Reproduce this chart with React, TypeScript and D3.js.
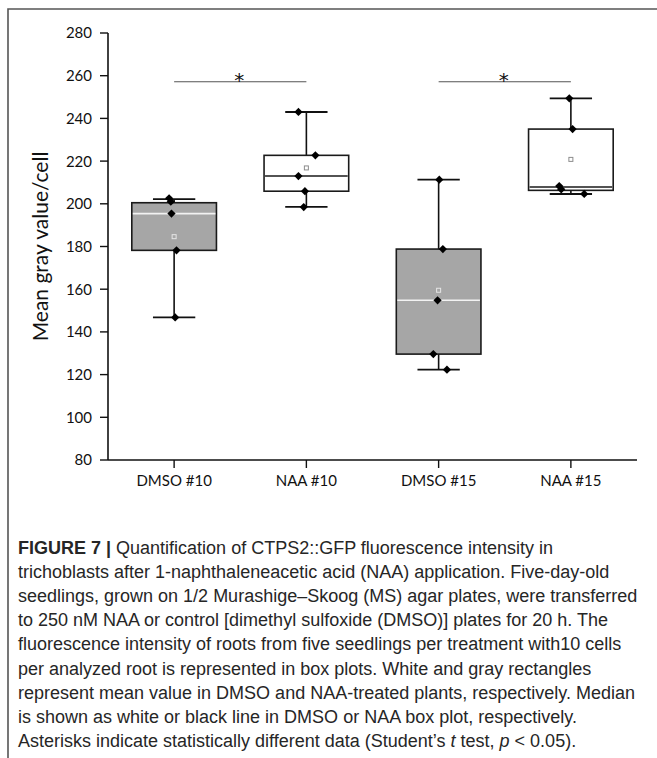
import React from "react";
import * as d3 from "d3";

const categories = ["DMSO #10", "NAA #10", "DMSO #15", "NAA #15"];
const treatment = ["DMSO", "NAA", "DMSO", "NAA"];
const q1 = [178.2, 205.9, 129.6, 206.3];
const median = [195.4, 213.0, 154.8, 207.9];
const q3 = [200.5, 222.7, 178.8, 235.0];
const mean = [184.6, 216.8, 159.5, 220.8];
const whiskerLow = [146.8, 198.6, 122.3, 204.6];
const whiskerHigh = [202.2, 243.0, 211.3, 249.4];
const points = [
  [202.6, 201.0, 195.4, 178.2, 146.8],
  [243.0, 222.7, 213.0, 205.9, 198.5],
  [211.3, 178.8, 154.8, 129.6, 122.3],
  [249.4, 235.0, 208.3, 206.8, 204.6],
];
// horizontal jitter of points, as a fraction of the band width
const jitter = [
  [-0.038, -0.025, -0.02, 0.018, 0.008],
  [-0.06, 0.068, -0.06, -0.011, -0.02],
  [0.005, 0.032, -0.008, -0.04, 0.063],
  [-0.012, 0.013, -0.088, -0.073, 0.101],
];
const yTicks = [80, 100, 120, 140, 160, 180, 200, 220, 240, 260, 280];
const significance = [
  { from: 0, to: 1, value: 257.2, label: "*" },
  { from: 2, to: 3, value: 257.2, label: "*" },
];
const captionLines = [
  "Quantification of CTPS2::GFP fluorescence intensity in",
  "trichoblasts after 1-naphthaleneacetic acid (NAA) application. Five-day-old",
  "seedlings, grown on 1/2 Murashige\u2013Skoog (MS) agar plates, were transferred",
  "to 250 nM NAA or control [dimethyl sulfoxide (DMSO)] plates for 20 h. The",
  "fluorescence intensity of roots from five seedlings per treatment with10 cells",
  "per analyzed root is represented in box plots. White and gray rectangles",
  "represent mean value in DMSO and NAA-treated plants, respectively. Median",
  "is shown as white or black line in DMSO or NAA box plot, respectively.",
  "Asterisks indicate statistically different data (Student\u2019s t test, p < 0.05).",
];

const W = 657;
const H = 758;
const font = "Lato, 'Open Sans', sans-serif";
const capFont = "'Liberation Sans', Arial, sans-serif";
const capSize = 18;

export default function App() {
  const x = d3.scaleBand<string>().domain(categories).range([108, 637]).padding(0);
  const y = d3.scaleLinear().domain([80, 280]).range([460, 33]);
  const bw = x.bandwidth();
  const boxW = bw * 0.64;
  const capW = bw * 0.32;
  const cx = (i: number) => (x(categories[i]) as number) + bw / 2;
  const diamond = d3.symbol().type(d3.symbolSquare).size(34)() as string;

  const renderCaptionLine = (line: string, i: number) => {
    const yy = 554 + i * 24.1;
    const common = { x: 18, y: yy, fontFamily: capFont, fontSize: capSize, fill: "#262626" };
    if (i === 0) {
      return (
        <text key={i} {...common}>
          <tspan fontWeight="bold">FIGURE 7 | </tspan>
          {line}
        </text>
      );
    }
    if (i === 8) {
      return (
        <text key={i} {...common}>
          {"Asterisks indicate statistically different data (Student\u2019s "}
          <tspan fontStyle="italic">t</tspan>
          {" test, "}
          <tspan fontStyle="italic">p</tspan>
          {" < 0.05)."}
        </text>
      );
    }
    return (
      <text key={i} {...common}>
        {line}
      </text>
    );
  };

  return (
    <div style={{ position: "absolute", left: 0, top: 0 }}>
      <svg width={W} height={H} style={{ display: "block", background: "#fff" }}>
        <path d={`M8,${H} V9 H${W}`} fill="none" stroke="#555" strokeWidth={1.6} />

        {/* y axis */}
        <line x1={108} x2={108} y1={y(280)} y2={y(80)} stroke="#111" strokeWidth={1.6} />
        {yTicks.map((t) => (
          <g key={t}>
            <line x1={100} x2={108} y1={y(t)} y2={y(t)} stroke="#111" strokeWidth={1.4} />
            <text x={92} y={y(t)} dy="0.36em" textAnchor="end" fontFamily={font} fontSize={15} fill="#111">
              {t}
            </text>
          </g>
        ))}
        <text
          transform={`translate(48,${(y(80) + y(280)) / 2}) rotate(-90)`}
          textAnchor="middle"
          fontFamily={font}
          fontSize={21}
          fill="#111"
        >
          Mean gray value/cell
        </text>

        {/* x axis */}
        <line x1={108} x2={637} y1={y(80)} y2={y(80)} stroke="#111" strokeWidth={1.6} />
        {categories.map((c, i) => (
          <g key={c}>
            <line x1={cx(i)} x2={cx(i)} y1={y(80)} y2={y(80) + 8} stroke="#111" strokeWidth={1.4} />
            <text x={cx(i)} y={486} textAnchor="middle" fontFamily={font} fontSize={15} fill="#111">
              {c}
            </text>
          </g>
        ))}

        {/* significance */}
        {significance.map((s, i) => (
          <g key={i}>
            <line x1={cx(s.from)} x2={cx(s.to)} y1={y(s.value)} y2={y(s.value)} stroke="#555" strokeWidth={1.1} />
            <text
              x={(cx(s.from) + cx(s.to)) / 2 - 1}
              y={y(s.value) + 5.5}
              textAnchor="middle"
              fontFamily="'DejaVu Sans', sans-serif"
              fontSize={20}
              fill="#111"
            >
              {s.label}
            </text>
          </g>
        ))}

        {/* boxes */}
        {categories.map((c, i) => {
          const isDMSO = treatment[i] === "DMSO";
          const xc = cx(i);
          return (
            <g key={c}>
              <line x1={xc} x2={xc} y1={y(whiskerHigh[i])} y2={y(whiskerLow[i])} stroke="#111" strokeWidth={1.6} />
              <line x1={xc - capW / 2} x2={xc + capW / 2} y1={y(whiskerHigh[i])} y2={y(whiskerHigh[i])} stroke="#111" strokeWidth={1.8} />
              <line x1={xc - capW / 2} x2={xc + capW / 2} y1={y(whiskerLow[i])} y2={y(whiskerLow[i])} stroke="#111" strokeWidth={1.8} />
              <rect
                x={xc - boxW / 2}
                y={y(q3[i])}
                width={boxW}
                height={y(q1[i]) - y(q3[i])}
                fill={isDMSO ? "#a6a6a6" : "#fff"}
                stroke="#1a1a1a"
                strokeWidth={1.6}
              />
              <line
                x1={xc - boxW / 2 + 1}
                x2={xc + boxW / 2 - 1}
                y1={y(median[i])}
                y2={y(median[i])}
                stroke={isDMSO ? "#f2f2f2" : "#1a1a1a"}
                strokeWidth={1.6}
              />
              <rect
                x={xc - 2}
                y={y(mean[i]) - 2}
                width={4}
                height={4}
                fill="none"
                stroke={isDMSO ? "#e6e6e6" : "#8c8c8c"}
                strokeWidth={1}
              />
              {points[i].map((v, j) => (
                <path
                  key={j}
                  d={diamond}
                  transform={`translate(${xc + jitter[i][j] * bw},${y(v)}) rotate(45)`}
                  fill="#000"
                />
              ))}
            </g>
          );
        })}

        {captionLines.map(renderCaptionLine)}
      </svg>
    </div>
  );
}
